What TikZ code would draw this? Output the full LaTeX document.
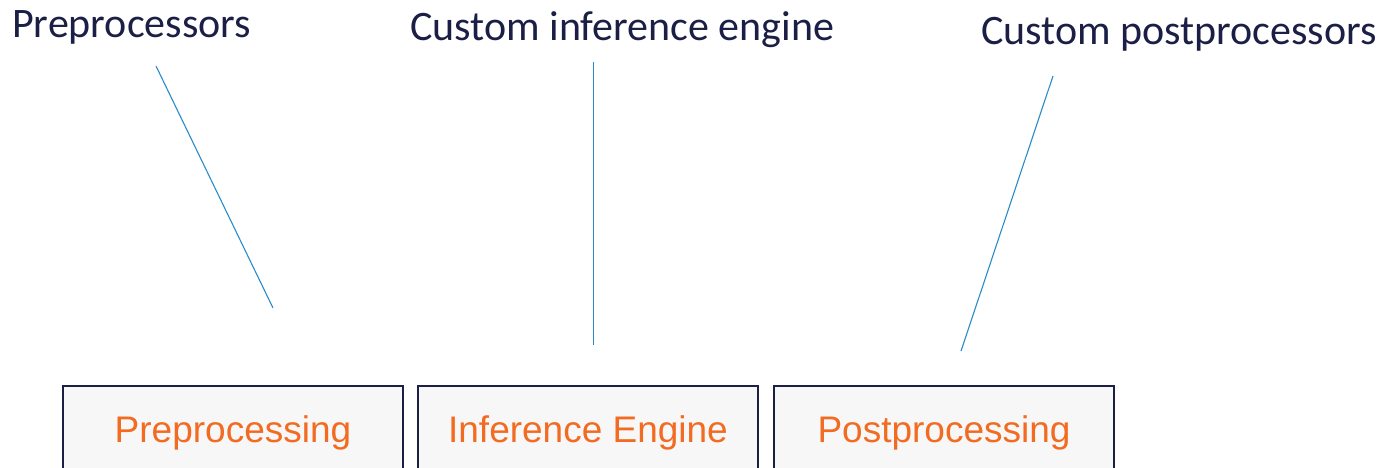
\documentclass[tikz,border=0pt]{standalone}
\usepackage{fontspec}
\setmainfont{Carlito}
\newfontfamily\boxfont{Liberation Sans}
\definecolor{navy}{HTML}{1B1F45}
\definecolor{stageorange}{HTML}{F26B21}
\definecolor{leader}{HTML}{2A8BC9}
\definecolor{stagefill}{HTML}{F7F7F7}
\begin{document}
\begin{tikzpicture}[x=1pt,y=-1pt,
  caption/.style={anchor=base west,inner sep=0pt,text=navy,font=\fontsize{42}{48}\selectfont},
  stage/.style={draw=navy,line width=1.6pt,fill=stagefill,minimum width=340pt,minimum height=94pt,
    inner sep=0pt,text=stageorange,font=\boxfont\fontsize{37}{44}\selectfont},
  leaderline/.style={draw=leader,line width=1.1pt}]
\useasboundingbox (0,0) rectangle (1386,467);
\clip (0,0) rectangle (1386,467);
% labels along the top
\node[caption] (pre) at (12,37) {Preprocessors};
\node[caption] (inf) at (410,40) {Custom inference engine};
\node[caption] (post) at (981,44) {Custom postprocessors};
% pipeline stages, running off the bottom edge
\node[stage] (sPre) at (233,433) {Preprocessing};
\node[stage] (sInf) at (588,433) {Inference Engine};
\node[stage] (sPost) at (944,433) {Postprocessing};
% leader lines from each label down towards its stage
\coordinate (a1) at (156,66);
\coordinate (a2) at (273,308);
\coordinate (b1) at (593.5,62);
\coordinate (b2) at (593.5,345);
\coordinate (c1) at (1053,76);
\coordinate (c2) at (961,351);
\draw[leaderline] (a1) -- (a2);
\draw[leaderline] (b1) -- (b2);
\draw[leaderline] (c1) -- (c2);
\end{tikzpicture}
\end{document}
